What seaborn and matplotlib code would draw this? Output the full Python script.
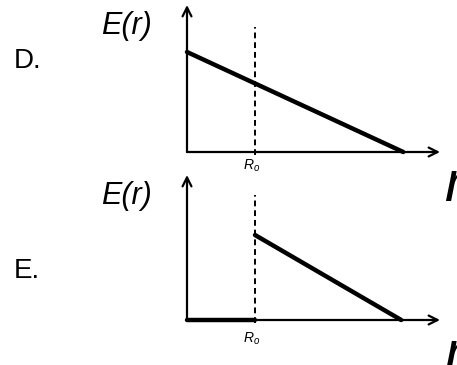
import matplotlib
matplotlib.use("Agg")
import matplotlib.pyplot as plt
import seaborn as sns

# E(r) sketches, r in units of R0
R0 = 1.0
r_max = 3.72
r_d = [0.0, 3.18]
e_d = [1.0, 0.0]
r_e_out = [1.0, 3.15]
e_e_out = [0.85, 0.0]
r_e_in = [0.0, 1.0]
e_e_in = [0.0, 0.0]
dash_top = 1.25
panel_labels = ["D.", "E."]

sns.set_theme(style="white")
plt.rcParams["font.family"] = ["Liberation Sans", "DejaVu Sans"]
plt.rcParams["text.color"] = "black"
plt.rcParams["mathtext.fontset"] = "custom"
plt.rcParams["mathtext.it"] = "Liberation Sans:italic"
plt.rcParams["mathtext.rm"] = "Liberation Sans"

W, H = 457, 365
fig = plt.figure(figsize=(W / 100, H / 100), dpi=100)
fig.patch.set_facecolor("white")


def px(x, y):
    return x / W, 1 - y / H


def make_axes(axis_y, top_y, ymax):
    left, bottom = px(187, axis_y)
    ax = fig.add_axes([left, bottom, (440 - 187) / W, (axis_y - top_y) / H])
    ax.set_xlim(0, r_max)
    ax.set_ylim(0, ymax)
    ax.set_axis_off()
    arrow = dict(arrowstyle="->", lw=1.6, color="black", mutation_scale=16,
                 shrinkA=0, shrinkB=0)
    ax.annotate("", xy=(r_max, 0), xytext=(0, 0), arrowprops=arrow,
                annotation_clip=False)
    ax.annotate("", xy=(0, ymax), xytext=(0, 0), arrowprops=arrow,
                annotation_clip=False)
    ax.plot([R0, R0], [-0.03, dash_top], color="black", lw=1.4,
            ls=(0, (3, 2)), clip_on=False)
    return ax


# panel D
ax1 = make_axes(152, 5, 1.47)
sns.lineplot(x=r_d, y=e_d, color="black", lw=3.2, ax=ax1)

# panel E
ax2 = make_axes(320, 175, 1.45)
sns.lineplot(x=r_e_out, y=e_e_out, color="black", lw=3.2, ax=ax2)
sns.lineplot(x=r_e_in, y=e_e_in, color="black", lw=3.2, ax=ax2)

for ax in (ax1, ax2):
    for ln in ax.lines:
        ln.set_clip_on(False)

# labels
for lab, yb, ey, ry, rb in [(panel_labels[0], 68, 34, 170, 201),
                            (panel_labels[1], 278, 204, 343, 371)]:
    fig.text(*px(14, yb), lab, fontsize=20, va="baseline", ha="left")
    fig.text(*px(101, ey), "E(r)", fontsize=22, style="italic",
             va="baseline", ha="left")
    fig.text(*px(252, ry), r"$R_o$", fontsize=10, va="baseline", ha="center")
    fig.text(*px(444, rb), "r", fontsize=42, style="italic",
             va="baseline", ha="left")

fig.savefig("out.png", dpi=100)
